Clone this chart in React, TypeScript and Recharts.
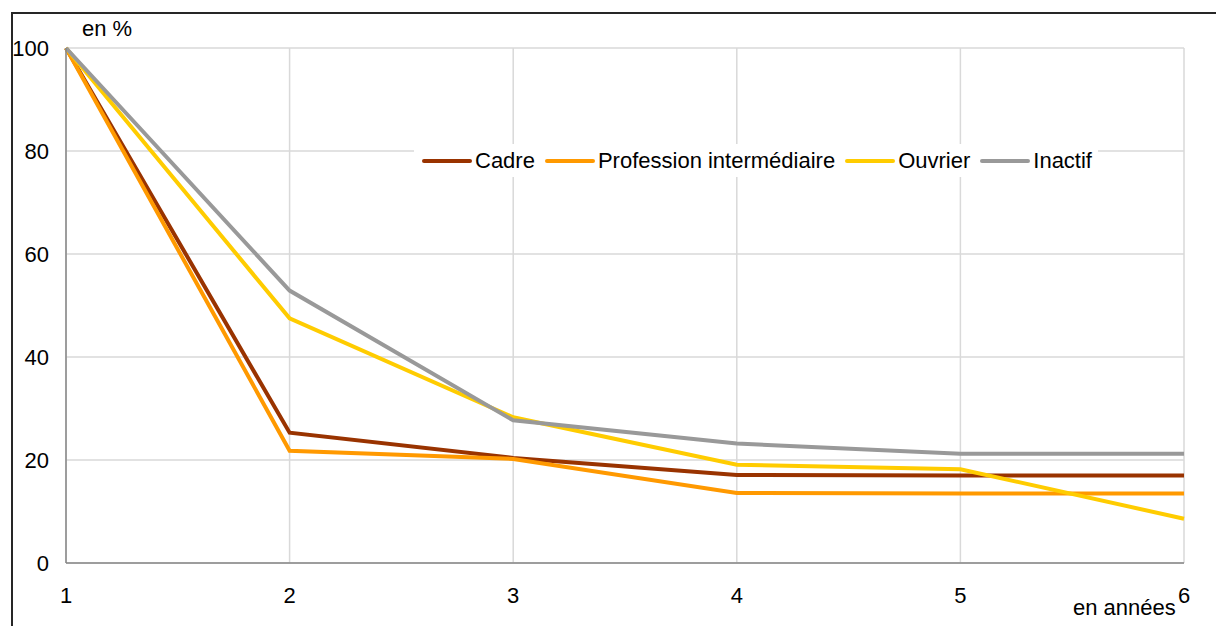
import React from 'react';
import { LineChart, Line, XAxis, YAxis, CartesianGrid } from 'recharts';

const years = [1, 2, 3, 4, 5, 6];
const cadre = [100, 25.3, 20.4, 17.1, 17.0, 17.0];
const profession = [100, 21.8, 20.2, 13.6, 13.5, 13.5];
const ouvrier = [100, 47.5, 28.3, 19.1, 18.2, 8.6];
const inactif = [100, 52.9, 27.7, 23.2, 21.2, 21.2];
const yTicks = [0, 20, 40, 60, 80, 100];

const SERIES = [
    { key: 'cadre', name: 'Cadre', color: '#993300' },
    { key: 'profession', name: 'Profession intermédiaire', color: '#FF9900' },
    { key: 'ouvrier', name: 'Ouvrier', color: '#FFCC00' },
    { key: 'inactif', name: 'Inactif', color: '#999999' }
];

const data = years.map((x, i) => ({
    x,
    cadre: cadre[i],
    profession: profession[i],
    ouvrier: ouvrier[i],
    inactif: inactif[i]
}));

const FONT = '"Liberation Sans", Arial, sans-serif';

// legend drawn on top of the plot, white box hides the grid behind it
const ChartLegend = () => (
    <div style={{ position: 'absolute', left: 414, top: 144, height: 33, display: 'flex', alignItems: 'center', background: '#fff', padding: '0 6px 0 8px', fontFamily: FONT, fontSize: 22, color: '#000' }}>
        {SERIES.map((s, i) => (
            <div key={s.key} style={{ display: 'flex', alignItems: 'center', marginLeft: i === 0 ? 0 : 10 }}>
                <span style={{ display: 'inline-block', width: 50, height: 4, background: s.color, borderRadius: 2, marginRight: 3 }} />
                <span>{s.name}</span>
            </div>
        ))}
    </div>
);

export default function App() {
    return (
        <div style={{ position: 'absolute', left: 0, top: 0, width: 1216, height: 626, overflow: 'hidden', background: '#fff' }}>
            <div style={{ position: 'absolute', left: 11, top: 12, width: 1205, height: 614, borderTop: '2px solid #262626', borderLeft: '2px solid #262626' }} />
            <div style={{ position: 'absolute', left: 0, top: 0 }}>
                <LineChart width={1216} height={626} data={data} margin={{ top: 48, right: 32, bottom: 33, left: 10 }}>
                    <CartesianGrid stroke="#D9D9D9" strokeWidth={1.5} />
                    <XAxis
                        dataKey="x"
                        type="number"
                        domain={[1, 6]}
                        ticks={years}
                        height={30}
                        axisLine={{ stroke: '#868686', strokeWidth: 1.5 }}
                        tickLine={false}
                        tickSize={0}
                        tickMargin={24}
                        tick={{ fill: '#000', fontSize: 22, fontFamily: FONT }}
                    />
                    <YAxis
                        type="number"
                        domain={[0, 100]}
                        ticks={yTicks}
                        width={56}
                        axisLine={{ stroke: '#868686', strokeWidth: 1.5 }}
                        tickLine={false}
                        tickSize={0}
                        tickMargin={17}
                        tick={{ fill: '#000', fontSize: 22, fontFamily: FONT }}
                    />
                    {SERIES.map(s => (
                        <Line
                            key={s.key}
                            type="linear"
                            dataKey={s.key}
                            name={s.name}
                            stroke={s.color}
                            strokeWidth={4}
                            dot={false}
                            isAnimationActive={false}
                        />
                    ))}
                </LineChart>
            </div>
            <div style={{ position: 'absolute', left: 82, top: 16, fontFamily: FONT, fontSize: 22, color: '#000' }}>en %</div>
            <div style={{ position: 'absolute', left: 1073, top: 595, fontFamily: FONT, fontSize: 22, color: '#000' }}>en années</div>
            <ChartLegend />
        </div>
    );
}
